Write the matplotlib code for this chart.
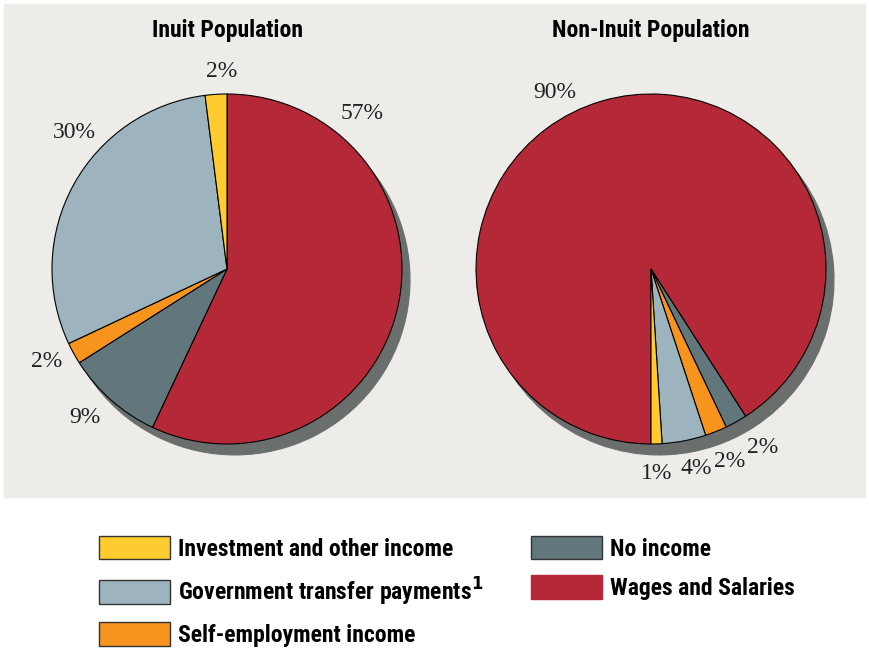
import matplotlib.pyplot as plt
from matplotlib.patches import Patch, Rectangle

# income sources, in the order the wedges run clockwise
categories = ['Wages and Salaries', 'No income', 'Self-employment income',
              'Government transfer payments$^{\\mathbf{1}}$', 'Investment and other income']
inuit = [57, 9, 2, 30, 2]
non_inuit = [90, 2, 2, 4, 1]
titles = ['Inuit Population', 'Non-Inuit Population']

colors = ['#b52838', '#62777c', '#f7941e', '#9db4be', '#ffcb30']
shadow_col = '#6a6f6e'
panel_col = '#edece8'

# where each percentage label sits (pie radius = 1)
inuit_lbl = [(0.77, 0.89), (-0.81, -0.85), (-1.03, -0.53), (-0.87, 0.78), (-0.03, 1.13)]
non_inuit_lbl = [(-0.55, 1.01), (0.64, -1.02), (0.45, -1.10), (0.26, -1.14), (0.03, -1.17)]

W, H = 869, 656
fig = plt.figure(figsize=(W / 100, H / 100), dpi=100)
fig.patches.append(Rectangle((4 / W, 1 - 497 / H), 861 / W, 493 / H,
                             transform=fig.transFigure, color=panel_col, zorder=-5))

head_font = dict(family=['Roboto Condensed', 'Roboto', 'DejaVu Sans'], weight='black')
pct_font = dict(family=['Liberation Serif', 'DejaVu Serif'])

R = 175
for cx, vals, lbls, start, title in [(227, inuit, inuit_lbl, 90, titles[0]),
                                     (651, non_inuit, non_inuit_lbl, 270, titles[1])]:
    cy = 269
    ax = fig.add_axes([(cx - 1.2 * R) / W, 1 - (cy + 1.2 * R) / H, 2.4 * R / W, 2.4 * R / H])
    ax.pie(vals, colors=colors, startangle=start, counterclock=False,
           wedgeprops=dict(edgecolor='black', linewidth=0.8),
           shadow=dict(ox=0.033, oy=-0.045, facecolor=shadow_col,
                       edgecolor=shadow_col, alpha=1))
    for v, (x, y) in zip(vals, lbls):
        ax.text(x, y, f'{v}%', ha='center', va='center', fontsize=17, color='#222222', **pct_font)
    ax.set_xlim(-1.2, 1.2)
    ax.set_ylim(-1.2, 1.2)
    ax.set_aspect('equal')
    ax.axis('off')
    fig.text(cx / W, 1 - 30 / H, title, ha='center', va='center', fontsize=17, **head_font)

# legend, two columns
handles = [Patch(facecolor=c, edgecolor='#333333' if c != colors[0] else c, linewidth=1)
           for c in colors][::-1]
fig.legend(handles, categories[::-1], ncol=2, loc='upper left',
           bbox_to_anchor=(99 / W, 1 - 536 / H), frameon=False,
           borderpad=0, borderaxespad=0, handlelength=3.0, handleheight=1.15,
           handletextpad=0.34, labelspacing=0.62, columnspacing=2.03,
           prop=dict(size=17, **head_font))

fig.savefig('out.png', dpi=100, facecolor='white')
